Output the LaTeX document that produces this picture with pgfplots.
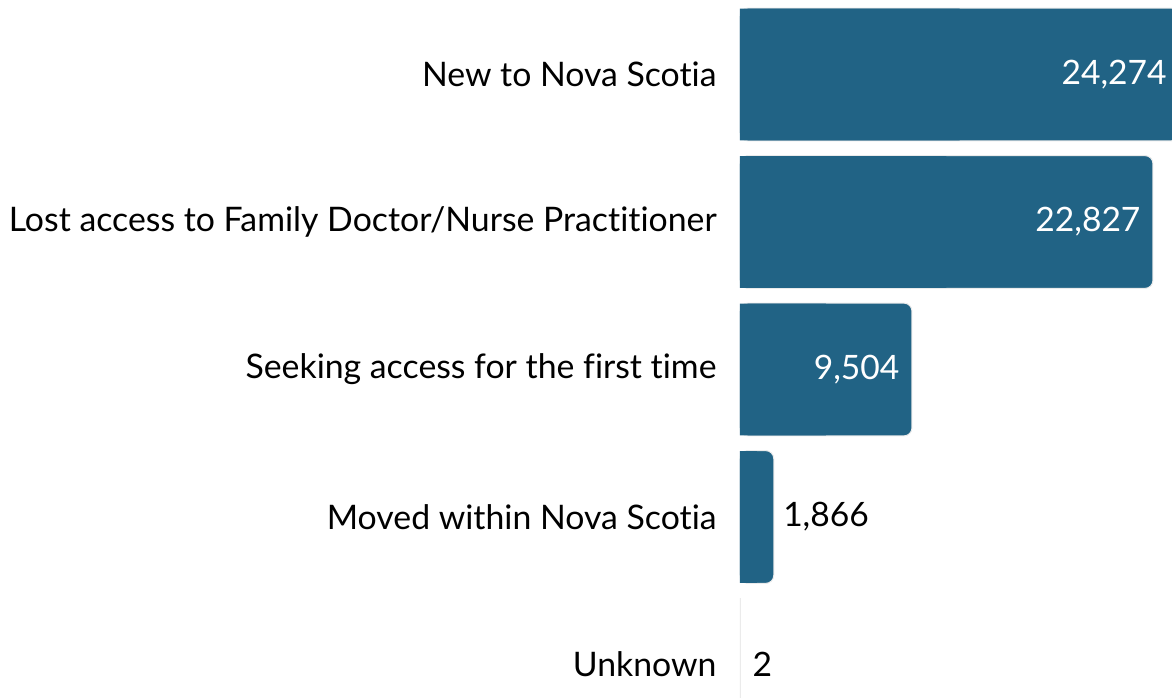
\documentclass[border=0pt]{standalone}
\usepackage{pgfplots}
\pgfplotsset{compat=1.18}
\usepackage{pgfplotstable}
\usepackage{fontspec}
\setmainfont{Lato}[Ligatures=NoCommon]
\definecolor{barblue}{RGB}{33,99,133}
\pgfplotstableread{
y v
0 24274
1 22827
2 9504
}\insidedata
\pgfplotstableread{
y v
3 1866
}\outsidedata
\pgfplotstableread{
y v
4 2
}\tinydata
\pgfplotstableread{
y v
0 24274
1 22827
2 9504
3 1866
}\squaredata
\begin{document}
\begin{tikzpicture}
\useasboundingbox (-740pt,0pt) rectangle (432pt,698pt);
\begin{axis}[
 at={(0pt,0pt)}, anchor=south west,
 scale only axis, width=452.3pt, height=698pt,
 xmin=0, xmax=25000,
 ymin=-0.505, ymax=4.227, y dir=reverse,
 xbar, bar width=0.9, bar shift=0pt,
 axis line style={draw=none}, tick style={draw=none},
 xtick=\empty,
 ytick={0,...,4},
 yticklabels={New to Nova Scotia, Lost access to Family Doctor/Nurse Practitioner, Seeking access for the first time, Moved within Nova Scotia, Unknown},
 yticklabel style={font=\fontsize{33.8}{40}\selectfont, inner sep=0pt, xshift=-19pt},
 point meta=explicit,
 nodes near coords={\pgfmathprintnumber[fixed,precision=0,1000 sep={,},assume math mode=true]{\pgfplotspointmeta}},
 nodes near coords style={font=\fontsize{33.6}{40}\selectfont, inner sep=0pt},
]
\addplot[fill=barblue, draw=black!8, line width=1pt, rounded corners=8pt,
  nodes near coords style={anchor=east, text=white, xshift=-12pt}]
  table[x=v, y=y, meta=v] {\insidedata};
\addplot[fill=barblue, draw=black!8, line width=1pt, rounded corners=8pt,
  nodes near coords style={anchor=west, text=black, xshift=9pt}]
  table[x=v, y=y, meta=v] {\outsidedata};
\addplot[fill=barblue, draw=black!8, line width=1pt,
  nodes near coords style={anchor=west, text=black, xshift=12pt}]
  table[x=v, y=y, meta=v] {\tinydata};
% square-cornered overlay on the left half so that only the right-hand corners look rounded
\addplot[fill=barblue, draw=none, bar width=0.893, nodes near coords={}]
  table[x expr=\thisrow{v}/2, y=y, meta=v] {\squaredata};
\end{axis}
\end{tikzpicture}
\end{document}
